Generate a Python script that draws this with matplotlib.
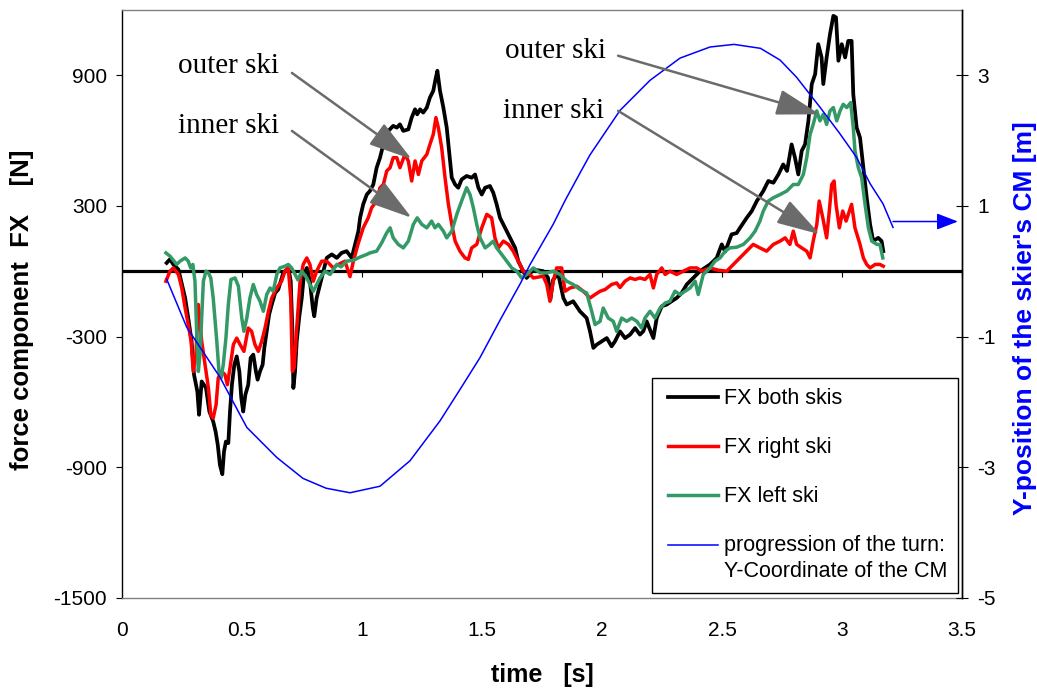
import numpy as np
import matplotlib
matplotlib.use('Agg')
import matplotlib.pyplot as plt
from matplotlib.legend_handler import HandlerLine2D

plt.rcParams['font.family'] = ['Liberation Sans', 'DejaVu Sans']
plt.rcParams['axes.unicode_minus'] = False

# ---------------- data ----------------
x_ticks = [0, 0.5, 1, 1.5, 2, 2.5, 3, 3.5]
x_tick_labels = ['0', '0.5', '1', '1.5', '2', '2.5', '3', '3.5']
left_ticks = [-1500, -900, -300, 300, 900]
right_ticks = [-5, -3, -1, 1, 3]

t_both = [0.186,0.200,0.214,0.235,0.263,0.276,0.290,0.300,0.314,0.321,
          0.332,0.350,0.364,0.380,0.390,0.399,0.408,0.418,0.425,0.433,
          0.443,0.450,0.458,0.468,0.478,0.489,0.497,0.505,0.514,0.526,
          0.536,0.547,0.558,0.565,0.575,0.586,0.593,0.603,0.613,0.624,
          0.638,0.651,0.672,0.693,0.703,0.710,0.714,0.721,0.728,0.738,
          0.749,0.758,0.770,0.783,0.795,0.801,0.811,0.825,0.839,0.853,
          0.874,0.895,0.915,0.936,0.957,0.971,0.985,0.992,1.005,1.020,
          1.033,1.047,1.061,1.075,1.089,1.110,1.130,1.145,1.158,1.172,
          1.193,1.207,1.221,1.230,1.242,1.255,1.270,1.283,1.297,1.305,
          1.314,1.325,1.339,1.353,1.364,1.374,1.388,1.401,1.415,1.436,
          1.457,1.471,1.485,1.499,1.513,1.533,1.547,1.561,1.575,1.596,
          1.617,1.638,1.651,1.665,1.686,1.714,1.755,1.775,1.785,1.796,
          1.817,1.839,1.853,1.880,1.908,1.936,1.950,1.964,1.978,1.999,
          2.020,2.040,2.054,2.075,2.096,2.117,2.138,2.158,2.172,2.186,
          2.214,2.228,2.249,2.270,2.290,2.311,2.332,2.353,2.380,2.408,
          2.450,2.478,2.499,2.513,2.540,2.561,2.575,2.603,2.624,2.645,
          2.672,2.693,2.714,2.735,2.755,2.771,2.790,2.804,2.818,2.832,
          2.846,2.860,2.874,2.888,2.901,2.915,2.922,2.936,2.950,2.964,
          2.975,2.985,2.999,3.013,3.026,3.040,3.047,3.061,3.075,3.089,
          3.103,3.117,3.130,3.151,3.165,3.172]
fx_both = [38,55,31,8,-123,-215,-322,-475,-552,-659,
           -506,-536,-644,-690,-736,-797,-889,-932,-828,-782,
           -789,-644,-521,-429,-391,-460,-582,-644,-567,-521,
           -398,-383,-460,-498,-460,-429,-352,-276,-199,-153,
           -100,-84,-8,15,-46,-276,-536,-460,-322,-215,
           -123,-15,15,-46,-169,-207,-123,-61,0,61,
           77,61,84,92,61,123,184,245,307,352,
           368,398,475,521,582,644,667,659,674,644,
           651,705,743,720,743,728,751,797,828,874,
           920,828,751,659,536,429,398,383,421,437,
           429,444,383,352,383,391,360,307,245,199,
           153,107,46,15,-31,8,0,-30,-130,-40,
           -10,-123,-153,-138,-184,-215,-276,-352,-337,-322,
           -307,-345,-322,-276,-307,-291,-261,-291,-276,-230,
           -307,-215,-161,-153,-138,-123,-100,-61,-31,0,
           31,61,123,90,169,175,199,245,276,322,
           368,414,406,444,490,460,582,521,444,552,
           582,690,859,904,1042,981,859,981,1088,1172,
           1165,966,1042,981,1057,1057,812,659,613,475,
           337,215,138,153,138,92]

t_right = [0.183,0.200,0.214,0.235,0.249,0.263,0.276,0.288,0.297,0.308,
           0.318,0.332,0.346,0.360,0.370,0.380,0.392,0.401,0.415,0.429,
           0.439,0.450,0.464,0.478,0.492,0.508,0.526,0.540,0.554,0.568,
           0.582,0.596,0.610,0.624,0.645,0.665,0.679,0.693,0.703,0.710,
           0.717,0.728,0.742,0.755,0.770,0.783,0.797,0.811,0.832,0.853,
           0.880,0.901,0.929,0.950,0.964,0.985,1.005,1.026,1.040,1.061,
           1.075,1.089,1.103,1.117,1.130,1.145,1.158,1.179,1.193,1.207,
           1.221,1.235,1.249,1.270,1.283,1.297,1.308,1.318,1.332,1.346,
           1.360,1.374,1.388,1.408,1.429,1.443,1.457,1.478,1.499,1.520,
           1.540,1.554,1.568,1.589,1.610,1.630,1.651,1.672,1.700,1.714,
           1.755,1.770,1.783,1.797,1.811,1.832,1.846,1.867,1.895,1.922,
           1.950,1.971,1.992,2.013,2.040,2.061,2.075,2.096,2.117,2.138,
           2.158,2.179,2.200,2.214,2.228,2.249,2.263,2.283,2.311,2.339,
           2.367,2.395,2.415,2.450,2.483,2.520,2.533,2.561,2.603,2.630,
           2.658,2.686,2.714,2.742,2.763,2.783,2.797,2.811,2.832,2.853,
           2.867,2.880,2.895,2.905,2.920,2.936,2.947,2.957,2.967,2.975,
           2.989,3.003,3.017,3.040,3.054,3.075,3.089,3.103,3.117,3.138,
           3.158,3.172]
fx_right = [-46,0,15,-15,-77,-169,-245,-322,-460,-380,
            -153,-322,-429,-536,-659,-674,-613,-490,-460,-475,
            -521,-444,-337,-307,-337,-368,-261,-276,-337,-368,
            -322,-261,-184,-123,-77,-46,0,15,-123,-460,
            -444,-261,-46,31,61,31,-46,0,46,46,
            15,31,46,-25,46,130,199,245,291,322,
            383,398,460,475,521,521,475,536,506,414,
            506,444,506,536,582,628,705,659,567,429,
            307,215,138,92,61,54,107,123,199,261,
            245,153,107,138,123,92,46,0,-15,-31,
            -23,-61,-138,-46,15,15,-92,-77,-69,-92,
            -123,-107,-92,-84,-61,-54,-75,-46,-31,-38,
            -31,-38,-15,-77,-15,15,-15,0,-15,0,
            15,15,0,15,5,0,15,46,92,123,
            107,92,123,138,153,123,184,123,107,92,
            61,138,215,322,245,153,276,398,414,307,
            199,276,230,307,199,123,61,31,15,31,
            31,23]

t_left = [0.183,0.200,0.228,0.242,0.263,0.276,0.286,0.295,0.304,0.311,
          0.318,0.325,0.332,0.339,0.350,0.360,0.370,0.380,0.395,0.404,
          0.413,0.422,0.433,0.443,0.454,0.471,0.485,0.499,0.508,0.520,
          0.533,0.547,0.561,0.575,0.589,0.603,0.617,0.630,0.645,0.658,
          0.679,0.693,0.707,0.721,0.733,0.749,0.770,0.783,0.797,0.811,
          0.825,0.846,0.867,0.895,0.913,0.936,0.964,0.992,1.020,1.033,
          1.061,1.082,1.103,1.117,1.130,1.151,1.172,1.193,1.214,1.230,
          1.249,1.270,1.290,1.304,1.318,1.339,1.353,1.374,1.395,1.415,
          1.436,1.450,1.464,1.478,1.492,1.513,1.529,1.547,1.561,1.582,
          1.603,1.624,1.645,1.665,1.686,1.714,1.742,1.770,1.797,1.825,
          1.853,1.880,1.908,1.936,1.957,1.971,1.992,2.005,2.026,2.047,
          2.061,2.082,2.103,2.124,2.145,2.165,2.179,2.200,2.221,2.242,
          2.263,2.283,2.304,2.325,2.346,2.367,2.388,2.401,2.422,2.450,
          2.471,2.492,2.513,2.533,2.561,2.589,2.617,2.638,2.658,2.672,
          2.693,2.714,2.742,2.770,2.797,2.818,2.839,2.853,2.867,2.880,
          2.895,2.908,2.922,2.936,2.950,2.964,2.978,2.992,3.005,3.020,
          3.036,3.047,3.054,3.068,3.082,3.096,3.110,3.124,3.145,3.158,
          3.170]
fx_left = [84,69,31,46,61,46,15,31,-46,-276,
           -460,-383,-215,-46,0,-8,-31,-123,-322,-460,
           -490,-429,-307,-153,-38,-31,-69,-215,-276,-215,
           -123,-61,-107,-138,-184,-107,-77,-92,-15,15,
           23,31,15,-15,-40,0,-31,-61,-92,-61,
           -31,0,-15,31,20,46,50,65,77,84,
           92,130,176,199,153,123,107,138,215,245,
           215,199,230,199,215,184,153,184,261,322,
           383,352,291,215,153,107,120,138,107,77,
           46,15,0,-31,-15,15,-8,-8,0,-15,
           -46,-61,-84,-100,-184,-245,-230,-169,-215,-230,
           -276,-215,-230,-215,-230,-261,-215,-184,-215,-169,
           -146,-138,-92,-107,-92,-77,-46,-107,-15,15,
           46,61,92,107,110,123,153,184,230,276,
           322,337,352,368,398,398,444,521,628,674,
           736,690,720,674,736,751,690,736,766,751,
           774,659,552,475,429,307,199,138,123,123,
           61]

t_cm = [0.186,0.27,0.408,0.52,0.645,0.754,0.85,0.95,1.075,1.2,
        1.325,1.41,1.492,1.575,1.658,1.7,1.797,1.846,1.908,1.95,
        2.075,2.2,2.325,2.45,2.55,2.66,2.742,2.81,2.908,2.99,
        3.061,3.117,3.171,3.2125]
y_cm = [-0.12,-0.86,-1.62,-2.39,-2.85,-3.17,-3.32,-3.39,-3.29,-2.9,
        -2.29,-1.8,-1.32,-0.75,-0.2,0.1,0.72,1.08,1.5,1.78,
        2.46,2.92,3.26,3.43,3.47,3.41,3.23,2.97,2.51,2.11,
        1.74,1.34,1.03,0.67]

labels = ['FX both skis', 'FX right ski', 'FX left ski',
          'progression of the turn:\nY-Coordinate of the CM']

# annotation texts: (text, x, y) and arrows (start, tip) in data units of the force axis
notes = [('outer ski', 0.233, 943), ('inner ski', 0.233, 667),
         ('outer ski', 1.596, 1011), ('inner ski', 1.588, 736)]
arrows = [((0.708, 910), (1.207, 514)), ((0.708, 644), (1.207, 245)),
          ((2.067, 989), (2.908, 720)), ((2.067, 736), (2.908, 169))]
cm_arrow = ((3.2125, 0.76), (3.483, 0.76))

# ---------------- figure ----------------
fig = plt.figure(figsize=(10.37, 6.91), dpi=100)
ax = fig.add_axes([0.11765, 0.13459, 0.81003, 0.85130])
ax2 = ax.twinx()

ax.set_xlim(0, 3.5)
ax.set_ylim(-1500, 1200)
ax2.set_ylim(-5, 4)

ax.axhline(0, color='black', lw=2.3, zorder=1)
ax.plot(t_both, fx_both, color='black', lw=2.7, zorder=2, label=labels[0])
ax.plot(t_right, fx_right, color='#ff0000', lw=2.5, zorder=3, label=labels[1])
ax.plot(t_left, fx_left, color='#339966', lw=2.5, zorder=4, label=labels[2])
ax2.plot(t_cm, y_cm, color='#0000ff', lw=1.1, label=labels[3])

# ticks
ax.set_xticks(x_ticks)
ax.set_xticklabels(x_tick_labels)
ax.tick_params(axis='x', length=0, pad=16.5, labelsize=15)
ax.set_yticks(left_ticks)
ax.tick_params(axis='y', direction='out', length=4.3, width=0.8, pad=6.5, labelsize=15)
ax2.set_yticks(right_ticks)
ax2.tick_params(axis='y', direction='inout', length=8.6, width=0.8, pad=6.5, labelsize=15)

sec = ax.secondary_xaxis(0, transform=ax.transData)
sec.set_xticks(x_ticks)
sec.tick_params(axis='x', direction='out', length=4.5, width=0.8, labelbottom=False, labeltop=False)
for s in sec.spines.values():
    s.set_visible(False)

for s in ['top', 'bottom']:
    ax.spines[s].set_color('#808080')
    ax2.spines[s].set_visible(False)
ax.spines['left'].set_color('black')
ax2.spines['left'].set_visible(False)
ax2.spines['right'].set_color('black')
for s in ax.spines.values():
    s.set_linewidth(1.0)
ax2.spines['right'].set_linewidth(1.0)

# axis titles
fig.text(22/1037, 1-310/691, 'force component  FX    [N]', rotation=90,
         fontsize=18.5, fontweight='bold', ha='center', va='center')
fig.text(1025/1037, 1-318/691, "Y-position of the skier's CM [m]", rotation=90,
         color='#0000ff', fontsize=19, fontweight='bold', ha='center', va='center')
fig.text(542/1037, 1-675/691, 'time   [s]', fontsize=18, fontweight='bold',
         ha='center', va='center')

# annotations
for txt, tx, ty in notes:
    ax2.text(tx, ty, txt, transform=ax.transData, family='Liberation Serif',
             fontsize=21, ha='left', va='center', zorder=6)
for start, tip in arrows:
    ax2.annotate('', xy=tip, xycoords=ax.transData, xytext=start, textcoords=ax.transData,
                 arrowprops=dict(arrowstyle='-|>,head_length=27,head_width=8',
                                 mutation_scale=1, color='#6b6b6b', lw=1.8,
                                 shrinkA=0, shrinkB=0), zorder=6)
ax2.annotate('', xy=cm_arrow[1], xytext=cm_arrow[0],
             arrowprops=dict(arrowstyle='-|>,head_length=13,head_width=5',
                             mutation_scale=1, color='#0000ff', lw=1.1,
                             shrinkA=0, shrinkB=0))


class ShiftedLine(HandlerLine2D):
    def __init__(self, shift=0.0, **kw):
        super().__init__(**kw)
        self.shift = shift

    def create_artists(self, legend, orig_handle, xdescent, ydescent, width, height, fontsize, trans):
        arts = super().create_artists(legend, orig_handle, xdescent, ydescent, width, height, fontsize, trans)
        for a in arts:
            a.set_ydata(np.asarray(a.get_ydata()) + self.shift * fontsize)
        return arts


h1, l1 = ax.get_legend_handles_labels()
h2, l2 = ax2.get_legend_handles_labels()
hm = {h: ShiftedLine(xpad=0.27) for h in h1}
hm[h2[0]] = ShiftedLine(xpad=0.27, shift=0.68)
leg = ax2.legend(h1 + h2, l1 + l2, loc='lower right', bbox_to_anchor=(0.995, 0.0085),
                 fontsize=15.5, frameon=True, fancybox=False, edgecolor='black',
                 framealpha=1, borderpad=0.5, borderaxespad=0, labelspacing=1.3,
                 handlelength=2.6, handletextpad=0.25, handler_map=hm)
leg.get_frame().set_linewidth(1.0)
leg.get_texts()[3].set_linespacing(1.3)
leg.set_zorder(10)

fig.savefig('out.png', dpi=100)
